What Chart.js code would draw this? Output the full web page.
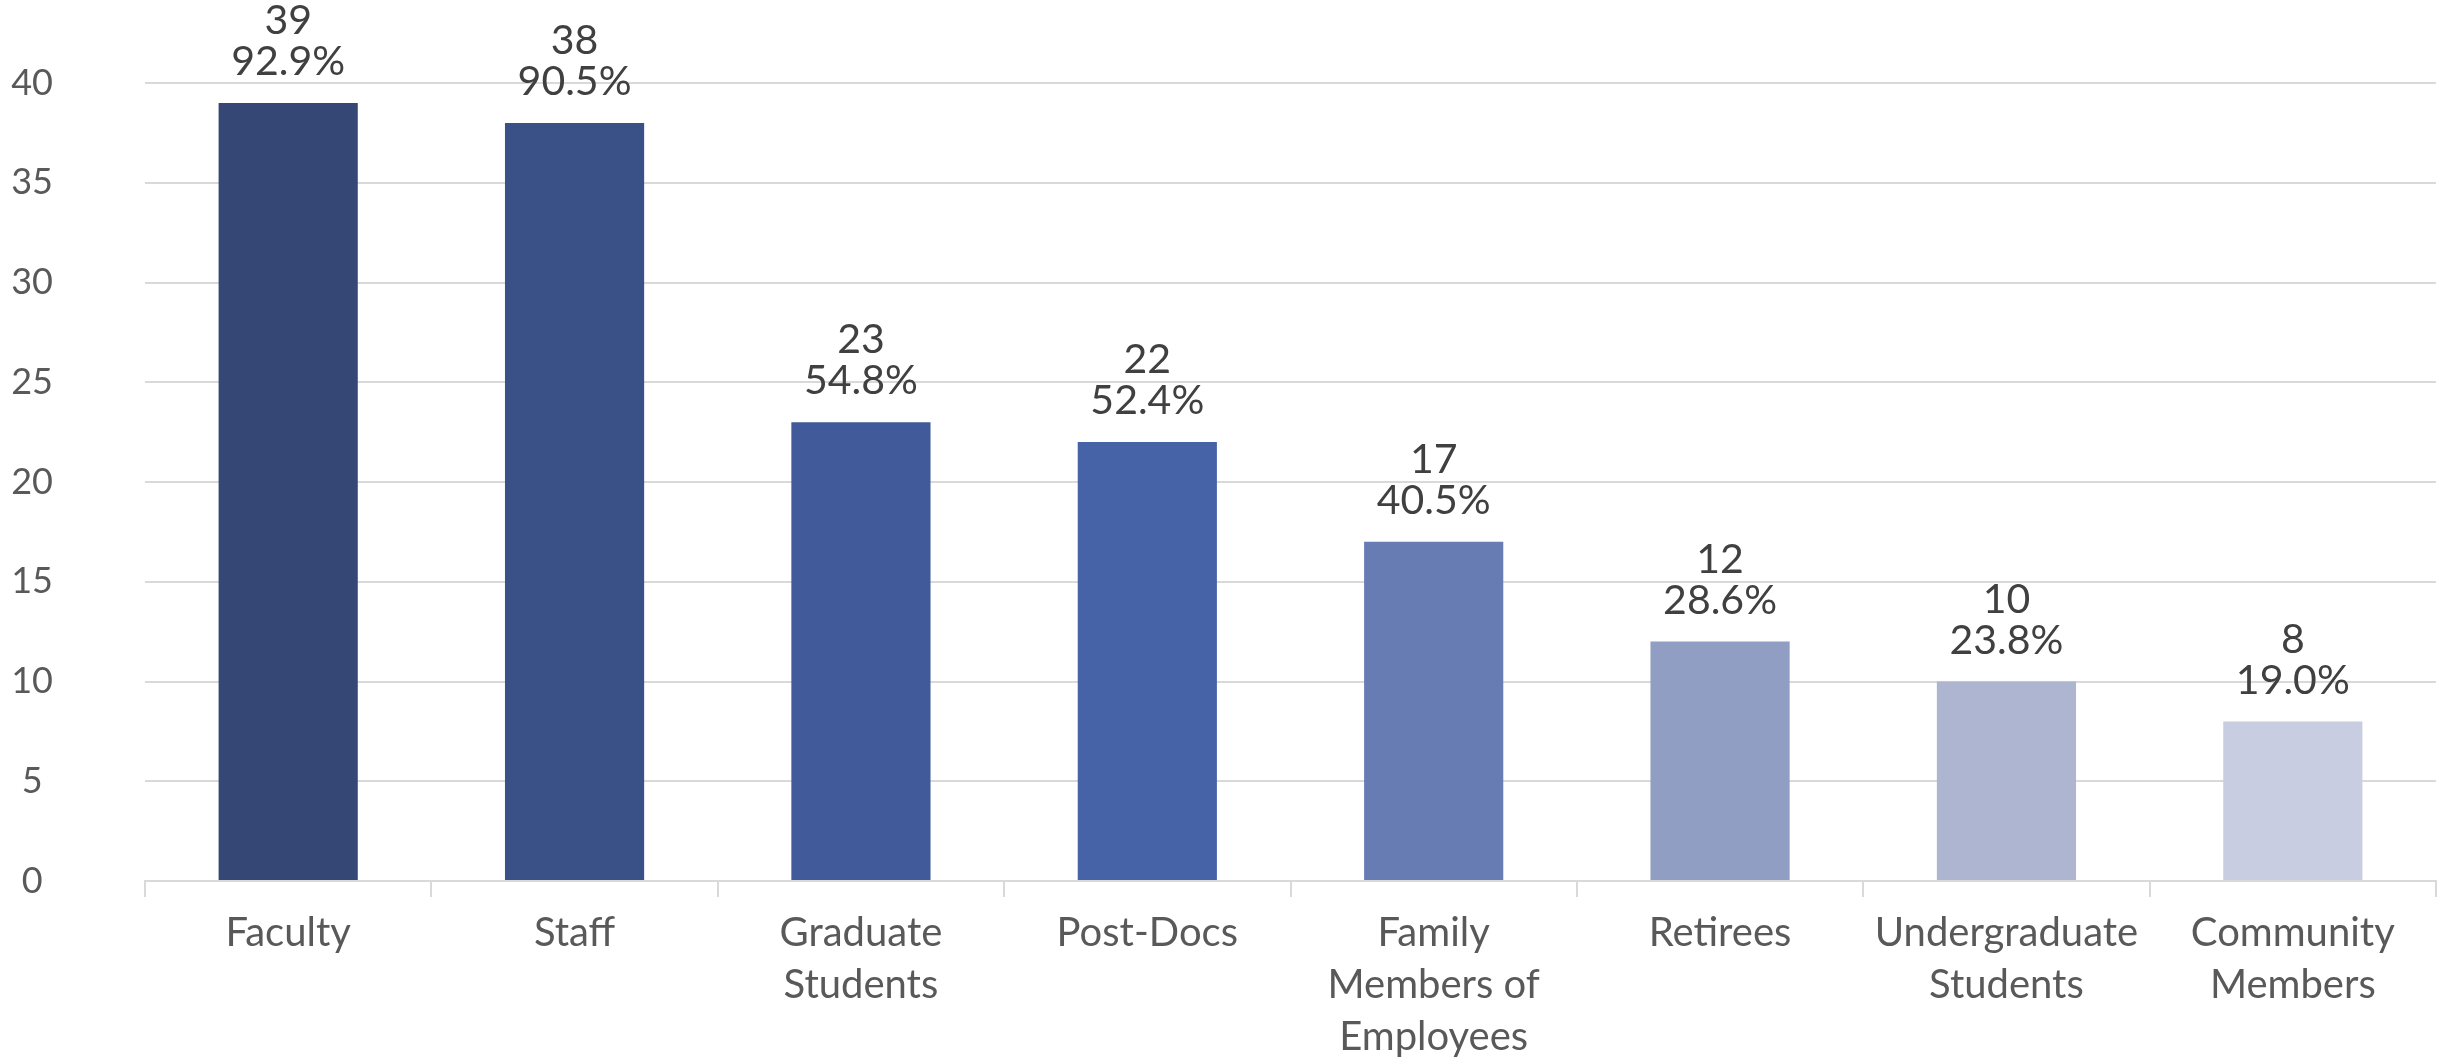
<!DOCTYPE html>
<html lang="en">
  <head>
    <meta charset="UTF-8" />
    <title>Respondents by Group - Bar Chart</title>
    <script src="https://cdn.jsdelivr.net/npm/chart.js"></script>
    <style>
      html, body {
        margin: 0;
        padding: 0;
        background: #ffffff;
      }
      #wrap {
        width: 2453px;
        height: 1062px;
      }
    </style>
  </head>
  <body>
    <div id="wrap"><canvas id="barChart" width="2453" height="1062"></canvas></div>

    <script>
      // chart data
      const categories = [
        ["Faculty"],
        ["Staff"],
        ["Graduate", "Students"],
        ["Post-Docs"],
        ["Family", "Members of", "Employees"],
        ["Retirees"],
        ["Undergraduate", "Students"],
        ["Community", "Members"],
      ];
      const counts = [39, 38, 23, 22, 17, 12, 10, 8];
      const percents = ["92.9%", "90.5%", "54.8%", "52.4%", "40.5%", "28.6%", "23.8%", "19.0%"];
      const barColors = [
        "#344775", "#3a5188", "#415a99", "#4763a8",
        "#677cb3", "#919ec3", "#aeb5d1", "#c8cde1",
      ];
      const yTicks = [0, 5, 10, 15, 20, 25, 30, 35, 40];

      const FONT = "Lato, 'Open Sans', sans-serif";

      // two-line labels above each bar: count, then percent
      const barLabels = {
        id: "barLabels",
        afterDatasetsDraw(chart) {
          const ctx = chart.ctx;
          const meta = chart.getDatasetMeta(0);
          ctx.save();
          ctx.font = "41px " + FONT;
          ctx.fillStyle = "#404040";
          ctx.textAlign = "center";
          ctx.textBaseline = "middle";
          meta.data.forEach((bar, i) => {
            ctx.fillText(String(counts[i]), bar.x, bar.y - 82);
            ctx.fillText(percents[i], bar.x, bar.y - 41);
          });
          ctx.restore();
        },
      };

      const ctx = document.getElementById("barChart").getContext("2d");
      new Chart(ctx, {
        type: "bar",
        data: {
          labels: categories,
          datasets: [
            {
              data: counts,
              backgroundColor: barColors,
              borderWidth: 0,
              categoryPercentage: 1,
              barPercentage: 0.486,
            },
          ],
        },
        options: {
          responsive: false,
          animation: false,
          layout: {
            padding: { top: 83, right: 17, left: 0, bottom: 0 },
          },
          plugins: {
            legend: { display: false },
            tooltip: { enabled: false },
          },
          scales: {
            x: {
              offset: true,
              grid: {
                offset: true,
                drawOnChartArea: false,
                drawTicks: true,
                tickLength: 16,
                color: "#d9d9d9",
                lineWidth: 2,
              },
              border: { display: true, color: "#d9d9d9", width: 2 },
              ticks: {
                color: "#595959",
                font: { family: FONT, size: 40, lineHeight: 1.3 },
                padding: 10,
                maxRotation: 0,
                autoSkip: false,
              },
              afterFit(scale) {
                scale.height = 181;
              },
            },
            y: {
              min: 0,
              max: 40,
              afterBuildTicks(scale) {
                scale.ticks = yTicks.map((v) => ({ value: v }));
              },
              grid: {
                color: "#d9d9d9",
                lineWidth: 2,
                drawTicks: false,
              },
              border: { display: false },
              ticks: {
                color: "#595959",
                font: { family: FONT, size: 36 },
                crossAlign: "center",
                padding: 92,
              },
              afterFit(scale) {
                // tick padding only moves the labels sideways here
                scale.width = 145;
                scale.paddingTop = 20;
                scale.paddingBottom = 20;
              },
            },
          },
        },
        plugins: [barLabels],
      });
    </script>
  </body>
</html>
